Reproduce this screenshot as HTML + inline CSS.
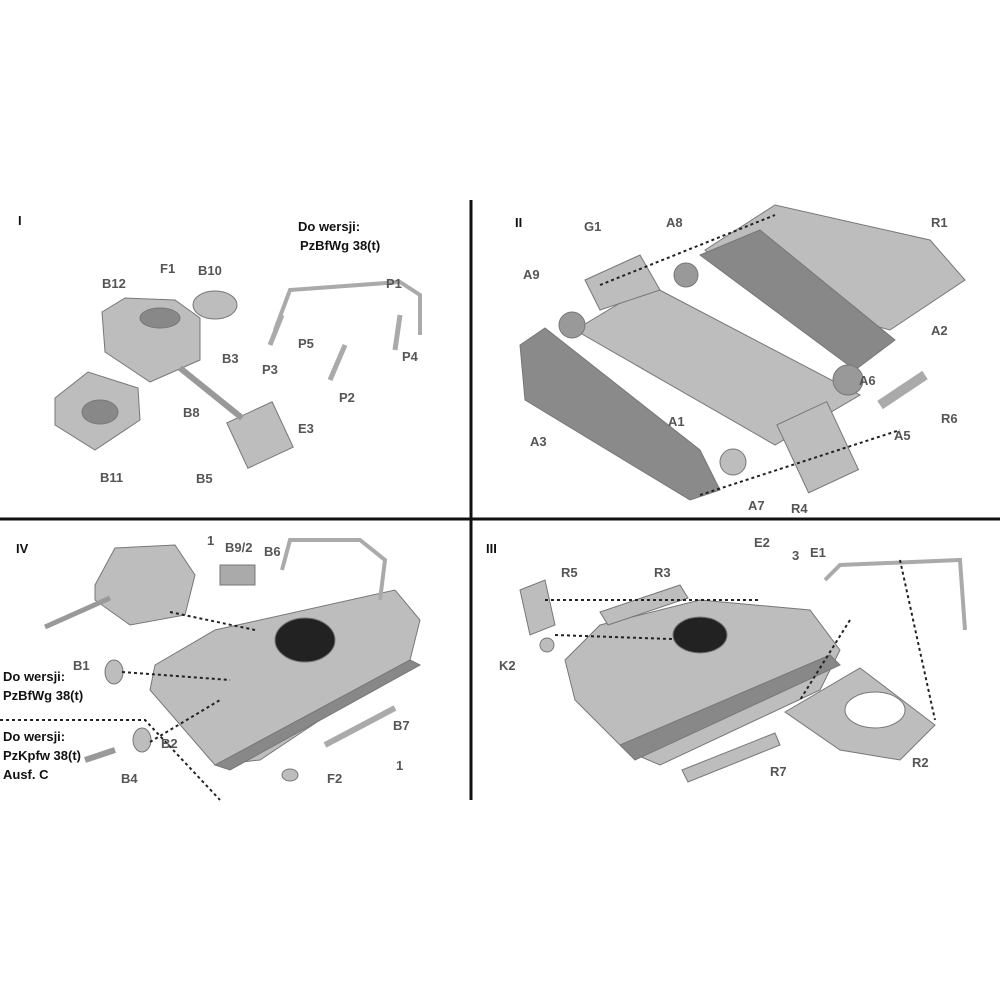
<!DOCTYPE html>
<html><head><style>
body{margin:0;background:#fff;}
svg{display:block}
text{font-family:"Liberation Sans",sans-serif;font-weight:bold;font-size:13px;fill:#555;}
.k{fill:#111;}
</style></head><body>
<svg width="1000" height="1000" viewBox="0 0 1000 1000" xmlns="http://www.w3.org/2000/svg">
<rect width="1000" height="1000" fill="#fff"/>
<line x1="471" y1="200" x2="471" y2="800" stroke="#111" stroke-width="3"/>
<line x1="0" y1="519" x2="1000" y2="519" stroke="#111" stroke-width="3"/>
<g fill="#bdbdbd" stroke="#777" stroke-width="1">
<!-- Section I -->
<path d="M102 312 L125 298 L175 300 L200 318 L200 360 L150 382 L105 352 Z"/>
<ellipse cx="160" cy="318" rx="20" ry="10" fill="#888"/>
<ellipse cx="215" cy="305" rx="22" ry="14"/>
<path d="M55 398 L88 372 L138 388 L140 420 L95 450 L55 425 Z"/>
<ellipse cx="100" cy="412" rx="18" ry="12" fill="#888"/>
<rect x="235" y="410" width="50" height="50" transform="rotate(-25 260 435)"/>
<path d="M180 368 L242 418" stroke="#999" stroke-width="6"/>
<path d="M275 330 L290 290 L400 282 L420 295 L420 335" fill="none" stroke="#aaa" stroke-width="4"/>
<path d="M270 345 L282 315 M330 380 L345 345 M395 350 L400 315" stroke="#aaa" stroke-width="5"/>
<!-- Section II -->
<path d="M705 250 L775 205 L930 240 L965 280 L890 330 L760 295 Z"/>
<path d="M700 255 L760 230 L895 340 L855 370 Z" fill="#888"/>
<path d="M575 330 L650 285 L860 395 L775 445 Z"/>
<path d="M520 345 L545 328 L700 450 L720 490 L690 500 L525 400 Z" fill="#8a8a8a"/>
<path d="M585 280 L640 255 L660 290 L600 310 Z"/>
<rect x="790" y="410" width="55" height="75" transform="rotate(-25 817 447)"/>
<circle cx="848" cy="380" r="15" fill="#999"/>
<circle cx="572" cy="325" r="13" fill="#999"/>
<circle cx="686" cy="275" r="12" fill="#999"/>
<circle cx="733" cy="462" r="13"/>
<path d="M880 405 L925 375" stroke="#aaa" stroke-width="10"/>
<!-- Section IV -->
<path d="M95 585 L115 548 L175 545 L195 575 L185 615 L130 625 L95 600 Z"/>
<path d="M45 627 L110 598" stroke="#999" stroke-width="5"/>
<path d="M155 665 L215 630 L395 590 L420 620 L410 660 L260 760 L215 765 L150 690 Z"/>
<path d="M215 765 L410 660 L420 665 L230 770 Z" fill="#888"/>
<ellipse cx="305" cy="640" rx="30" ry="22" fill="#222"/>
<rect x="220" y="565" width="35" height="20" fill="#aaa"/>
<path d="M282 570 L290 540 L360 540 L385 560 L380 600" fill="none" stroke="#aaa" stroke-width="4"/>
<ellipse cx="114" cy="672" rx="9" ry="12"/>
<ellipse cx="142" cy="740" rx="9" ry="12"/>
<path d="M85 760 L115 750" stroke="#999" stroke-width="6"/>
<path d="M325 745 L395 708" stroke="#aaa" stroke-width="6"/>
<ellipse cx="290" cy="775" rx="8" ry="6"/>
<!-- Section III -->
<path d="M565 660 L600 625 L700 600 L810 610 L840 650 L820 690 L660 765 L625 750 L575 700 Z"/>
<path d="M620 745 L830 655 L840 665 L635 760 Z" fill="#888"/>
<ellipse cx="700" cy="635" rx="27" ry="18" fill="#222"/>
<path d="M600 612 L680 585 L688 598 L608 625 Z"/>
<path d="M682 770 L775 733 L780 745 L688 782 Z"/>
<path d="M520 590 L545 580 L555 625 L530 635 Z"/>
<circle cx="547" cy="645" r="7"/>
<path d="M785 712 L860 668 L935 725 L900 760 L840 750 Z"/>
<ellipse cx="875" cy="710" rx="30" ry="18" fill="#fff"/>
<path d="M825 580 L840 565 L960 560 L965 630" fill="none" stroke="#aaa" stroke-width="4"/>
</g>
<g stroke="#222" stroke-width="2" stroke-dasharray="3 3" fill="none">
<path d="M122 672 L230 680"/><path d="M150 742 L220 700"/><path d="M0 720 L145 720 L220 800"/>
<path d="M170 612 L255 630"/>
<path d="M545 600 L760 600"/><path d="M555 635 L700 640"/><path d="M850 620 L800 700"/><path d="M900 560 L935 720"/>
<path d="M600 285 L775 215"/><path d="M700 495 L900 430"/>
</g>
<text x="18" y="225" class="k">I</text>
<text x="515" y="227" class="k">II</text>
<text x="16" y="553" class="k">IV</text>
<text x="486" y="553" class="k">III</text>
<text x="298" y="231" class="k">Do wersji:</text>
<text x="300" y="250" class="k">PzBfWg 38(t)</text>
<text x="160" y="273">F1</text><text x="198" y="275">B10</text><text x="102" y="288">B12</text>
<text x="222" y="363">B3</text><text x="183" y="417">B8</text><text x="298" y="433">E3</text>
<text x="196" y="483">B5</text><text x="100" y="482">B11</text>
<text x="386" y="288">P1</text><text x="298" y="348">P5</text><text x="262" y="374">P3</text>
<text x="402" y="361">P4</text><text x="339" y="402">P2</text>
<text x="584" y="231">G1</text><text x="666" y="227">A8</text><text x="931" y="227">R1</text>
<text x="523" y="279">A9</text><text x="931" y="335">A2</text><text x="859" y="385">A6</text>
<text x="941" y="423">R6</text><text x="894" y="440">A5</text><text x="668" y="426">A1</text>
<text x="530" y="446">A3</text><text x="748" y="510">A7</text><text x="791" y="513">R4</text>
<text x="207" y="545">1</text><text x="225" y="552">B9/2</text><text x="264" y="556">B6</text>
<text x="73" y="670">B1</text><text x="3" y="681" class="k">Do wersji:</text><text x="3" y="700" class="k">PzBfWg 38(t)</text>
<text x="3" y="741" class="k">Do wersji:</text><text x="3" y="760" class="k">PzKpfw 38(t)</text><text x="3" y="779" class="k">Ausf. C</text>
<text x="393" y="730">B7</text><text x="161" y="748">B2</text><text x="121" y="783">B4</text>
<text x="396" y="770">1</text><text x="327" y="783">F2</text>
<text x="754" y="547">E2</text><text x="792" y="560">3</text><text x="810" y="557">E1</text>
<text x="561" y="577">R5</text><text x="654" y="577">R3</text><text x="499" y="670">K2</text>
<text x="770" y="776">R7</text><text x="912" y="767">R2</text>
</svg>
</body></html>
